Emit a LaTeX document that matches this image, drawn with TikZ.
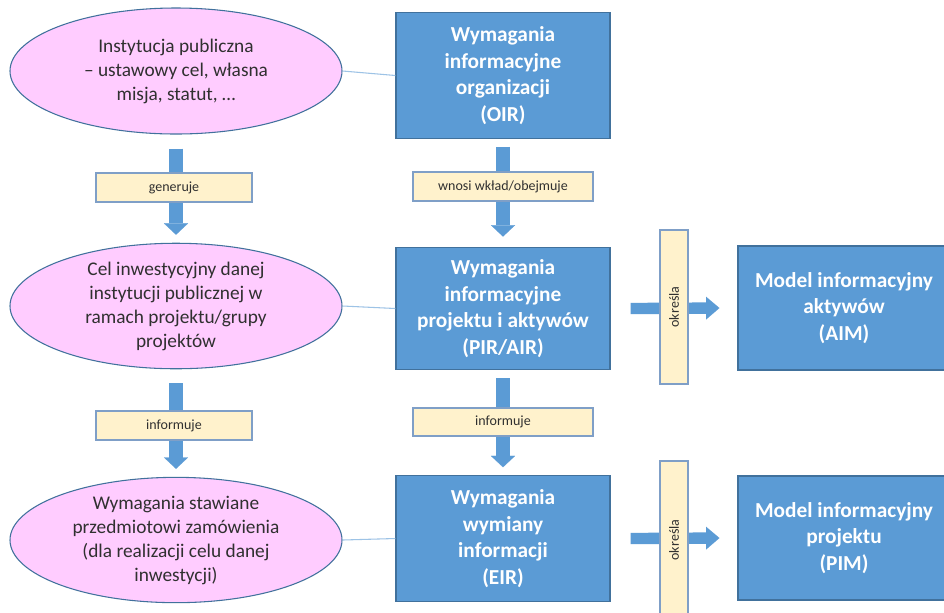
\documentclass[tikz,border=0pt]{standalone}
\usepackage{fontspec}
\setmainfont{Carlito}
\usetikzlibrary{shapes.geometric,arrows.meta}

\definecolor{boxblue}{HTML}{5B9BD5}
\definecolor{boxedge}{HTML}{41719C}
\definecolor{pinkfill}{HTML}{FFCCFF}
\definecolor{tagfill}{HTML}{FFF2CC}
\definecolor{tagedge}{HTML}{7F9FC7}
\definecolor{linkblue}{HTML}{9DC3E6}
\definecolor{darktext}{HTML}{303030}

\tikzset{
  goal/.style={ellipse, draw=boxedge, line width=0.8pt, fill=pinkfill,
    minimum width=249pt, inner sep=0pt, align=center,
    text=darktext, font=\fontsize{14.5}{18}\selectfont},
  reqbox/.style={rectangle, draw=boxedge, line width=0.9pt, fill=boxblue,
    minimum width=160.5pt, minimum height=93pt, inner sep=0pt, align=center,
    text=white, font=\fontsize{16}{20}\selectfont\bfseries},
  modelbox/.style={reqbox, minimum width=159pt},
  tag/.style={rectangle, draw=tagedge, line width=0.8pt, fill=tagfill,
    minimum height=21.75pt, inner sep=0pt, text=darktext,
    font=\fontsize{10.5}{12}\selectfont},
  vtag/.style={tag, minimum height=21pt, rotate=90},
  link/.style={draw=linkblue, line width=0.8pt},
  fatdown/.style={draw=boxblue, line width=10.5pt,
    -{Triangle[width=18pt,length=8.5pt,line width=0.1pt]}},
  fatright/.style={draw=boxblue, line width=8.5pt,
    -{Triangle[width=17pt,length=10pt,line width=0.1pt]}}
}

\begin{document}
\begin{tikzpicture}[x=0.75pt, y=-0.75pt]
  \clip (0,0) rectangle (944,612);
  \fill[white] (0,0) rectangle (944,612);

  % left column: public body goals
  \node[goal, minimum height=94.5pt] (inst) at (176,71)
    {Instytucja publiczna\\– ustawowy cel, własna\\misja, statut, …};
  \node[goal, minimum height=92pt] (cel) at (176,306)
    {Cel inwestycyjny danej\\instytucji publicznej w\\ramach projektu/grupy\\projektów};
  \node[goal, minimum height=94pt] (wym) at (176,540)
    {Wymagania stawiane\\przedmiotowi zamówienia\\(dla realizacji celu danej\\inwestycji)};

  % middle column: information requirements
  \node[reqbox, minimum height=94pt] (oir) at (503,75.5)
    {Wymagania\\informacyjne\\organizacji\\(OIR)};
  \node[reqbox, minimum height=92pt] (pir) at (503,308.5)
    {Wymagania\\informacyjne\\projektu i aktywów\\(PIR/AIR)};
  \node[reqbox, minimum height=94pt] (eir) at (503,538.5)
    {Wymagania\\wymiany\\informacji\\(EIR)};

  % right column: information models
  \node[modelbox] (aim) at (844,308)
    {Model informacyjny\\aktywów\\(AIM)};
  \node[modelbox] (pim) at (844,538)
    {Model informacyjny\\projektu\\(PIM)};

  % thin links between rows
  \draw[link] (inst.east) -- (oir.west);
  \draw[link] (cel.east) -- (pir.west);
  \draw[link] (wym.east) -- (eir.west);

  % block arrows
  \draw[fatdown] ([yshift=-10.5pt]inst.south) -- ([yshift=6pt]cel.north);
  \draw[fatdown] ([yshift=-10.5pt]cel.south) -- ([yshift=6pt]wym.north);
  \draw[fatdown] ([yshift=-6pt]oir.south) -- ([yshift=7.5pt]pir.north);
  \draw[fatdown] ([yshift=-6pt]pir.south) -- ([yshift=6pt]eir.north);
  \draw[fatright] ([xshift=15pt]pir.east) -- ([xshift=-13.5pt]aim.west);
  \draw[fatright] ([xshift=15pt]eir.east) -- ([xshift=-13.5pt]pim.west);

  % arrow labels
  \node[tag, minimum width=117pt] (t1) at (174,187.5) {generuje};
  \node[tag, minimum width=117pt] (t2) at (174,425.5) {informuje};
  \node[tag, minimum width=135pt] (t3) at (503,186.5) {wnosi wkład/obejmuje};
  \node[tag, minimum width=135pt, minimum height=21pt] (t4) at (503,422) {informuje};
  \node[vtag, minimum width=115.5pt] (t5) at (674,307) {określa};
  \node[vtag, minimum width=118.5pt] (t6) at (674,540) {określa};
\end{tikzpicture}
\end{document}
